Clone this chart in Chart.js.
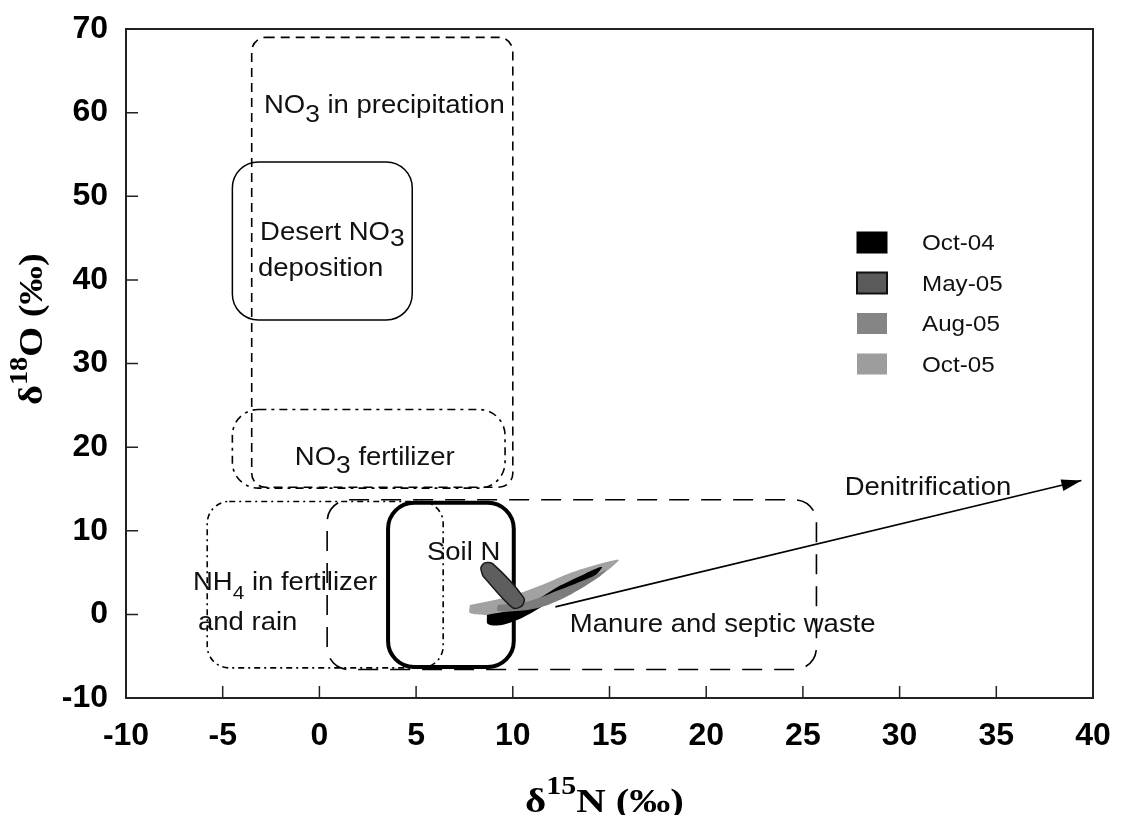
<!DOCTYPE html>
<html>
<head>
<meta charset="utf-8">
<script src="https://cdn.jsdelivr.net/npm/chart.js@4.4.0/dist/chart.umd.min.js"></script>
<style>
  html, body { margin: 0; padding: 0; background: #fff; }
  #wrap { width: 1123px; height: 815px; }
</style>
</head>
<body>
<div id="wrap"><canvas id="chart" width="1123" height="815"></canvas></div>
<script>
// Axis ticks (per mil)
const xTickValues = [-10, -5, 0, 5, 10, 15, 20, 25, 30, 35, 40];
const yTickValues = [-10, 0, 10, 20, 30, 40, 50, 60, 70];

// Sampling campaigns
const seriesNames = ['Oct-04', 'May-05', 'Aug-05', 'Oct-05'];

// Outline of each campaign's field of δ15N / δ18O values
const oct04X = [8.66, 9.59, 10.47, 11.40, 12.43, 13.72, 14.60, 14.29, 12.95, 11.65, 10.47, 9.43, 8.71, 8.66];
const oct04Y = [-0.06, 0.30, 0.89, 1.97, 3.41, 4.84, 5.68, 4.72, 2.69, 1.13, -0.42, -1.26, -1.14, -0.06];

const may05X = [8.45, 8.35, 8.55, 8.97, 10.57, 10.47, 10.00, 8.45];
const may05Y = [4.60, 5.56, 6.16, 6.04, 1.97, 1.01, 0.77, 4.60];

const aug05X = [9.22, 10.88, 12.43, 13.98, 14.81, 14.39, 13.05, 11.65, 10.36, 9.22, 9.22];
const aug05Y = [1.13, 1.61, 2.93, 4.37, 5.32, 4.37, 2.45, 1.01, 0.42, 0.42, 1.13];

const oct05X = [7.78, 8.81, 10.10, 11.40, 12.84, 14.50, 15.48, 15.12, 13.98, 12.43, 10.88, 9.59, 8.55, 7.78, 7.78];
const oct05Y = [1.13, 1.61, 2.33, 3.41, 4.84, 6.04, 6.52, 5.68, 3.77, 2.09, 0.77, 0.06, -0.06, 0.18, 1.13];

// Typical isotope ranges of nitrate sources
const sourceNames = ['NO3 in precipitation', 'Desert NO3 deposition', 'NO3 fertilizer',
                     'NH4 in fertilizer and rain', 'Manure and septic waste', 'Soil N'];
const sourceXMin = [-3.5, -4.5, -4.5, -5.8, 0.4, 3.55];
const sourceXMax = [10.0, 4.8, 9.6, 6.4, 25.7, 10.05];
const sourceYMin = [15.2, 35.2, 15.1, -6.4, -6.6, -6.3];
const sourceYMax = [69.0, 54.1, 24.5, 13.5, 13.7, 13.35];

// Denitrification trend (start, end)
const denitX = [12.2, 39.4];
const denitY = [0.9, 16.0];

// ---- styling ----
const seriesFill  = ['#000000', '#5e5e5e', '#7c7c7c', '#a2a2a2'];
const seriesLine  = ['#000000', '#1a1a1a', '#7c7c7c', '#a2a2a2'];
const seriesLineW = [0, 1.5, 0, 0];
const seriesOrder = [3, 1, 2, 4];        // higher draws first
const legendFill  = ['#000000', '#5a5a5a', '#858585', '#9d9d9d'];
const legendLine  = ['#000000', '#111111', '#858585', '#9d9d9d'];
const legendLineW = [1, 2, 0, 0];

const sourceStyle = [
  { dash: [9, 6],         width: 1.6, radius: 14 },
  { dash: [],             width: 1.5, radius: 26 },
  { dash: [8, 5, 3, 5],   width: 1.6, radius: 26 },
  { dash: [6, 4, 2, 4],   width: 1.6, radius: 22 },
  { dash: [20, 12],       width: 1.6, radius: 22 },
  { dash: [],             width: 4,   radius: 26 }
];

const SANS = '"Liberation Sans", Arial, Helvetica, sans-serif';
const SERIF = '"Liberation Serif", "Times New Roman", Times, serif';
const TEXT_STRETCH = 1.1;

// label text runs: [text, baseline offset px, size factor]
const fieldLabels = [
  { x: -2.87, y: 60.0, runs: [['NO', 0, 1], ['3', 9, 0.95], [' in precipitation', 0, 1]] },
  { x: -3.07, y: 44.8, runs: [['Desert NO', 0, 1], ['3', 6, 0.95]] },
  { x: -3.18, y: 40.5, runs: [['deposition', 0, 1]] },
  { x: -1.27, y: 17.9, runs: [['NO', 0, 1], ['3', 8, 0.95], [' fertilizer', 0, 1]] },
  { x: 5.56,  y: 6.52, runs: [['Soil N', 0, 1]] },
  { x: -6.54, y: 2.93, runs: [['NH', 0, 1], ['4', 9, 0.75], [' in fertilizer', 0, 1]] },
  { x: -6.28, y: -1.85, runs: [['and rain', 0, 1]] },
  { x: 12.95, y: -2.1, runs: [['Manure and septic waste', 0, 1]] },
  { x: 27.16, y: 14.3, runs: [['Denitrification', 0, 1]] }
];

function drawRuns(ctx, runs, x, y, size, family, weight, stretch) {
  ctx.save();
  ctx.translate(x, y);
  ctx.scale(stretch, 1);
  ctx.textBaseline = 'alphabetic';
  ctx.textAlign = 'left';
  let cx = 0;
  runs.forEach(r => {
    ctx.font = `${weight} ${Math.round(size * r[2])}px ${family}`;
    ctx.fillText(r[0], cx, r[1]);
    cx += ctx.measureText(r[0]).width;
  });
  ctx.restore();
}

function roundRectPath(ctx, x0, y0, x1, y1, r) {
  const w = x1 - x0, h = y1 - y0;
  r = Math.min(r, w / 2, h / 2);
  ctx.beginPath();
  ctx.moveTo(x0 + r, y0);
  ctx.lineTo(x1 - r, y0);
  ctx.arcTo(x1, y0, x1, y0 + r, r);
  ctx.lineTo(x1, y1 - r);
  ctx.arcTo(x1, y1, x1 - r, y1, r);
  ctx.lineTo(x0 + r, y1);
  ctx.arcTo(x0, y1, x0, y1 - r, r);
  ctx.lineTo(x0, y0 + r);
  ctx.arcTo(x0, y0, x0 + r, y0, r);
  ctx.closePath();
}

const fieldPlugin = {
  id: 'sourceFields',
  beforeDatasetsDraw(chart) {
    const { ctx, scales: { x, y } } = chart;
    ctx.save();
    // source boxes
    sourceNames.forEach((n, i) => {
      const st = sourceStyle[i];
      const px0 = x.getPixelForValue(sourceXMin[i]);
      const px1 = x.getPixelForValue(sourceXMax[i]);
      const py0 = y.getPixelForValue(sourceYMax[i]);
      const py1 = y.getPixelForValue(sourceYMin[i]);
      ctx.setLineDash(st.dash);
      ctx.lineWidth = st.width;
      ctx.strokeStyle = '#000';
      roundRectPath(ctx, px0, py0, px1, py1, st.radius);
      ctx.stroke();
    });
    ctx.setLineDash([]);
    // box labels
    ctx.fillStyle = '#111';
    fieldLabels.forEach(l => {
      drawRuns(ctx, l.runs, x.getPixelForValue(l.x), y.getPixelForValue(l.y), 25, SANS, 'normal', TEXT_STRETCH);
    });
    ctx.restore();
  },
  afterDraw(chart) {
    const { ctx, chartArea: a, scales: { x, y } } = chart;
    ctx.save();
    // frame
    ctx.strokeStyle = '#222';
    ctx.lineWidth = 2;
    ctx.strokeRect(a.left, a.top, a.right - a.left, a.bottom - a.top);
    // inward tick marks
    ctx.lineWidth = 1.5;
    ctx.beginPath();
    x.ticks.forEach(t => {
      const px = x.getPixelForValue(t.value);
      ctx.moveTo(px, a.bottom);
      ctx.lineTo(px, a.bottom - 12);
    });
    y.ticks.forEach(t => {
      const py = y.getPixelForValue(t.value);
      ctx.moveTo(a.left, py);
      ctx.lineTo(a.left + 12, py);
    });
    ctx.stroke();

    // denitrification arrow head
    const x0 = x.getPixelForValue(denitX[0]), y0 = y.getPixelForValue(denitY[0]);
    const x1 = x.getPixelForValue(denitX[1]), y1 = y.getPixelForValue(denitY[1]);
    const ang = Math.atan2(y1 - y0, x1 - x0);
    ctx.fillStyle = '#000';
    ctx.beginPath();
    ctx.moveTo(x1, y1);
    ctx.lineTo(x1 - 20 * Math.cos(ang) + 6 * Math.sin(ang), y1 - 20 * Math.sin(ang) - 6 * Math.cos(ang));
    ctx.lineTo(x1 - 20 * Math.cos(ang) - 6 * Math.sin(ang), y1 - 20 * Math.sin(ang) + 6 * Math.cos(ang));
    ctx.closePath();
    ctx.fill();

    // legend
    const lx = a.right - 236, ly = a.top + 203;
    seriesNames.forEach((name, i) => {
      const by = ly + i * 40.5;
      ctx.fillStyle = legendFill[i];
      ctx.fillRect(lx, by, 30, 21);
      if (legendLineW[i] > 0) {
        ctx.strokeStyle = legendLine[i];
        ctx.lineWidth = legendLineW[i];
        ctx.strokeRect(lx, by, 30, 21);
      }
      ctx.fillStyle = '#111';
      drawRuns(ctx, [[name, 0, 1]], lx + 65, by + 18, 21.5, SANS, 'normal', TEXT_STRETCH);
    });

    // axis titles
    ctx.fillStyle = '#000';
    drawRuns(ctx, [['δ', 0, 1], ['15', -18, 0.74], ['N (‰)', 0, 1]], 525, 812, 34, SERIF, 'bold', 1.2);
    ctx.save();
    ctx.translate(42, 405);
    ctx.rotate(-Math.PI / 2);
    drawRuns(ctx, [['δ', 0, 1], ['18', -15, 0.74], ['O (‰)', 0, 1]], 0, 0, 34, SERIF, 'bold', 1.13);
    ctx.restore();
    ctx.restore();
  }
};

const datasets = [];
const blobX = [oct04X, may05X, aug05X, oct05X];
const blobY = [oct04Y, may05Y, aug05Y, oct05Y];
seriesNames.forEach((name, i) => {
  datasets.push({
    label: name,
    data: blobX[i].map((v, j) => ({ x: v, y: blobY[i][j] })),
    showLine: true,
    fill: 'shape',
    backgroundColor: seriesFill[i],
    borderColor: seriesLine[i],
    borderWidth: seriesLineW[i],
    pointRadius: 0,
    pointHoverRadius: 0,
    tension: 0.3,
    order: seriesOrder[i]
  });
});
datasets.push({
  label: 'Denitrification',
  data: denitX.map((v, j) => ({ x: v, y: denitY[j] })),
  showLine: true,
  fill: false,
  borderColor: '#000',
  borderWidth: 1.6,
  pointRadius: 0,
  order: 0
});

const tickFont = { family: SANS, size: 32, weight: 'bold' };
function zeroPadding(s) { s.paddingLeft = 0; s.paddingRight = 0; s.paddingTop = 0; s.paddingBottom = 0; }

new Chart(document.getElementById('chart'), {
  type: 'scatter',
  data: { datasets },
  options: {
    responsive: false,
    animation: false,
    layout: { padding: { left: 30, right: 30, top: 29, bottom: 0 } },
    plugins: { legend: { display: false }, tooltip: { enabled: false } },
    scales: {
      x: {
        type: 'linear', min: -10, max: 40,
        afterBuildTicks: s => { s.ticks = xTickValues.map(v => ({ value: v })); },
        afterFit: s => { s.height = 117; zeroPadding(s); },
        grid: { display: false, drawTicks: false },
        border: { display: false },
        ticks: { font: tickFont, color: '#000', padding: 19, maxRotation: 0, autoSkip: false }
      },
      y: {
        type: 'linear', min: -10, max: 70,
        afterBuildTicks: s => { s.ticks = yTickValues.map(v => ({ value: v })); },
        afterFit: s => { s.width = 96; zeroPadding(s); },
        grid: { display: false, drawTicks: false },
        border: { display: false },
        ticks: { font: tickFont, color: '#000', padding: 18, autoSkip: false }
      }
    }
  },
  plugins: [fieldPlugin]
});
</script>
</body>
</html>
